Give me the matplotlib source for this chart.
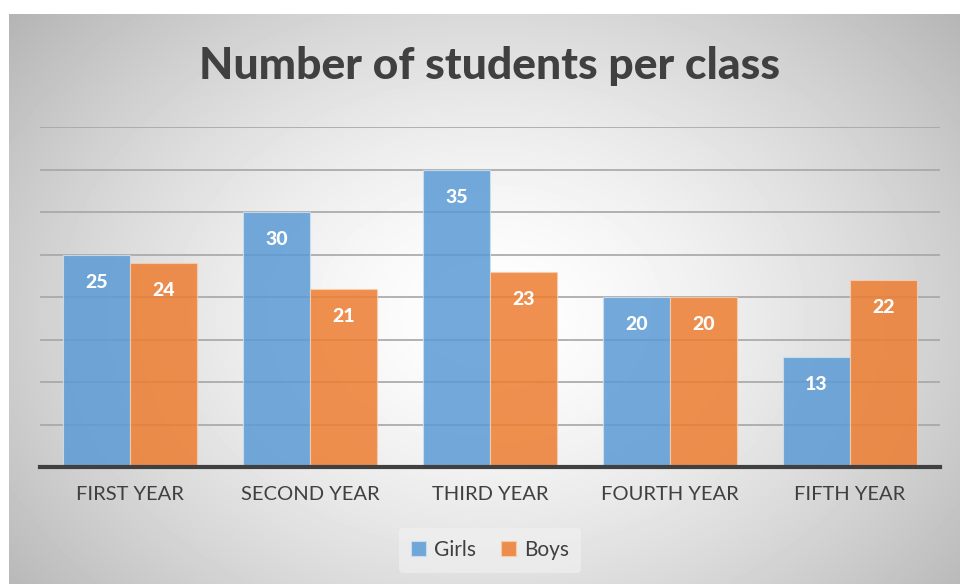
import numpy as np
import matplotlib.pyplot as plt

categories = ['FIRST YEAR', 'SECOND YEAR', 'THIRD YEAR', 'FOURTH YEAR', 'FIFTH YEAR']
girls = [25, 30, 35, 20, 13]
boys = [24, 21, 23, 20, 22]

plt.rcParams['font.family'] = ['Lato', 'DejaVu Sans']

fig = plt.figure(figsize=(9.6, 5.84), dpi=100)

# radial gradient background (white centre, grey edges)
bg = fig.add_axes([9 / 960, 0, 951 / 960, 570 / 584], zorder=-10)
yy, xx = np.mgrid[0:570, 0:951]
r = np.sqrt(((xx - 480) / 560.0) ** 2 + ((yy - 300) / 420.0) ** 2)
shade = 1.0 - 0.25 * np.clip(r, 0, 1.2) ** 1.5
bg.imshow(shade, cmap='gray', vmin=0, vmax=1, aspect='auto', interpolation='bilinear')
bg.axis('off')

ax = fig.add_axes([40 / 960, 117 / 584, 900 / 960, 340 / 584])
ax.patch.set_alpha(0)

x = np.arange(len(categories))
w = 0.372
b1 = ax.bar(x - w / 2, girls, w, color='#5B9BD5', alpha=0.85, edgecolor='#cfe0f0', linewidth=0.8, zorder=3)
b2 = ax.bar(x + w / 2, boys, w, color='#ED7D31', alpha=0.85, edgecolor='#f6cfb0', linewidth=0.8, zorder=3)

for bars in (b1, b2):
    for rect in bars:
        h = rect.get_height()
        ax.annotate(str(int(h)), (rect.get_x() + rect.get_width() / 2, h),
                    xytext=(0, -20), textcoords='offset points', ha='center', va='center',
                    color='white', fontsize=14, fontweight='black', zorder=5)

ax.set_xlim(-0.5, 4.5)
ax.set_ylim(0, 40)
ax.set_yticks(np.arange(5, 41, 5))
ax.yaxis.grid(True, color='#a6a6a6', linewidth=1.2, zorder=1)
ax.tick_params(axis='y', left=False, labelleft=False)
ax.set_xticks(x)
ax.set_xticklabels(categories, fontsize=14.5, color='#404040')
ax.tick_params(axis='x', length=0, pad=14)
for s in ['top', 'right', 'left']:
    ax.spines[s].set_visible(False)
ax.spines['bottom'].set_color('#404040')
ax.spines['bottom'].set_linewidth(3)
ax.spines['bottom'].set_zorder(6)

fig.text(0.51, 1 - 66 / 584, 'Number of students per class', ha='center', va='center',
         fontsize=32, fontweight='black', color='#404040')

leg = fig.legend([b1, b2], ['Girls', 'Boys'], loc='center', bbox_to_anchor=(490 / 960, 1 - 550 / 584),
                 ncol=2, frameon=True, fontsize=15, handlelength=0.7, handleheight=0.7,
                 handletextpad=0.4, columnspacing=1.2, borderpad=0.6)
leg.get_frame().set_facecolor('#f2f2f2')
leg.get_frame().set_edgecolor('none')
leg.get_frame().set_alpha(0.6)
for t in leg.get_texts():
    t.set_color('#404040')

fig.savefig('out.png', dpi=100, facecolor='white')
